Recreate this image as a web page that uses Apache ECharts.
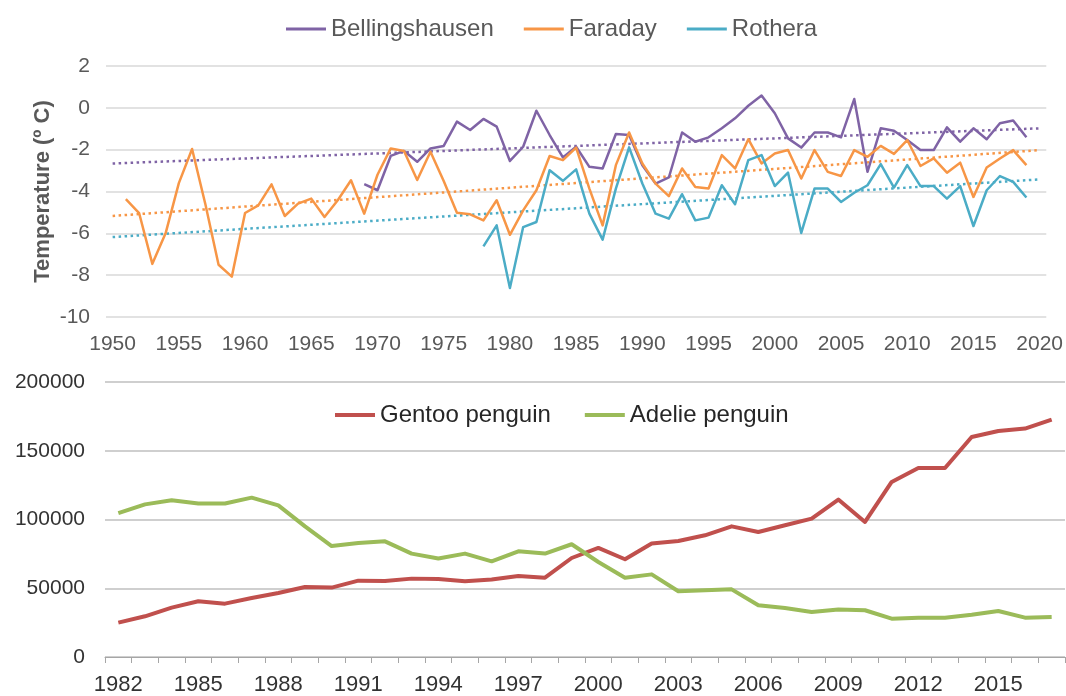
<!DOCTYPE html>
<html><head><meta charset="utf-8">
<script src="https://cdn.jsdelivr.net/npm/echarts@6/dist/echarts.min.js"></script>
<style>html,body{margin:0;padding:0;background:#fff}#c{width:1066px;height:696px}</style>
</head><body><div id="c"></div>
<script>
// ---- Top panel: temperature ----
const tempYears = ['1950','1951','1952','1953','1954','1955','1956','1957','1958','1959',
'1960','1961','1962','1963','1964','1965','1966','1967','1968','1969',
'1970','1971','1972','1973','1974','1975','1976','1977','1978','1979',
'1980','1981','1982','1983','1984','1985','1986','1987','1988','1989',
'1990','1991','1992','1993','1994','1995','1996','1997','1998','1999',
'2000','2001','2002','2003','2004','2005','2006','2007','2008','2009',
'2010','2011','2012','2013','2014','2015','2016','2017','2018','2019','2020'];

const faraday = [null,-4.37,-5.03,-7.46,-6.0,-3.6,-1.97,-4.6,-7.5,-8.07,
-5.03,-4.66,-3.66,-5.17,-4.58,-4.34,-5.22,-4.42,-3.46,-5.06,
-3.2,-1.94,-2.06,-3.45,-2.1,-3.5,-5.02,-5.09,-5.38,-4.42,
-6.07,-4.9,-3.94,-2.3,-2.5,-1.9,-3.86,-5.62,-2.74,-1.18,
-2.66,-3.62,-4.22,-2.9,-3.78,-3.86,-2.26,-2.9,-1.5,-2.66,
-2.18,-2.02,-3.38,-2.02,-3.06,-3.26,-2.02,-2.34,-1.82,-2.2,
-1.54,-2.78,-2.42,-3.1,-2.62,-4.26,-2.85,-2.42,-2.02,-2.74,null];

const bellingshausen = [null,null,null,null,null,null,null,null,null,null,
null,null,null,null,null,null,null,null,null,-3.65,
-3.94,-2.3,-2.06,-2.58,-1.94,-1.82,-0.66,-1.06,-0.53,-0.9,
-2.54,-1.86,-0.14,-1.3,-2.37,-1.86,-2.82,-2.9,-1.25,-1.3,
-2.75,-3.62,-3.33,-1.18,-1.62,-1.41,-0.98,-0.5,0.1,0.59,
-0.26,-1.46,-1.9,-1.18,-1.18,-1.41,0.42,-3.06,-0.98,-1.1,
-1.54,-2.02,-2.02,-0.93,-1.62,-0.98,-1.5,-0.74,-0.61,-1.41,null];

const rothera = [null,null,null,null,null,null,null,null,null,null,
null,null,null,null,null,null,null,null,null,null,
null,null,null,null,null,null,null,null,-6.62,-5.62,
-8.61,-5.7,-5.46,-2.98,-3.49,-2.94,-5.06,-6.3,-3.86,-1.89,
-3.62,-5.06,-5.3,-4.13,-5.38,-5.25,-3.7,-4.61,-2.5,-2.26,
-3.74,-3.1,-5.98,-3.86,-3.86,-4.5,-4.06,-3.7,-2.69,-3.81,
-2.74,-3.74,-3.74,-4.34,-3.74,-5.65,-3.94,-3.26,-3.54,-4.29,null];

// linear trend lines: value at first and last year
const trendYears = ['1950','2020'];
const bellTrend = [-2.66,-0.98];
const faradayTrend = [-5.17,-2.02];
const rotheraTrend = [-6.18,-3.42];

// ---- Bottom panel: penguins ----
const penguinYears = ['1982','1983','1984','1985','1986','1987','1988','1989','1990','1991',
'1992','1993','1994','1995','1996','1997','1998','1999','2000','2001',
'2002','2003','2004','2005','2006','2007','2008','2009','2010','2011',
'2012','2013','2014','2015','2016','2017'];
const gentoo = [25000,29600,35900,40500,38800,42900,46500,50900,50500,55500,
55300,57000,56800,55100,56300,58900,57700,72000,79300,71100,
82500,84400,88500,95000,90900,95800,100600,114500,98200,127300,
137500,137500,160000,164400,166100,172600];
const adelie = [104700,111000,114000,111600,111600,115900,110300,95000,80700,82900,
84100,75200,71600,75200,69600,76900,75200,82000,69100,57700,
60100,47800,48500,49200,37600,35600,32700,34500,34000,27900,
28600,28600,30800,33500,28600,29100];

const C = {bell:'#7F63A5', far:'#F79646', rot:'#4BACC6', gen:'#C0504D', ade:'#9BBB59'};
const FONT = 'Liberation Sans, Arial, sans-serif';

function pairs(xs, vs){ return xs.map((x,i)=>[x, vs[i]]); }
function tempLine(name, data, color){
  return {name, type:'line', xAxisIndex:0, yAxisIndex:0, data, symbol:'none',
    lineStyle:{color, width:2.5, join:'round'}, itemStyle:{color}, connectNulls:false, z:3};
}
function trendLine(name, vals, color){
  return {name, type:'line', xAxisIndex:0, yAxisIndex:0, data:pairs(trendYears, vals), symbol:'none',
    lineStyle:{color, width:2.5, type:[2.5,3.5]}, itemStyle:{color}, silent:true, z:2};
}

const chart = echarts.init(document.getElementById('c'), null, {renderer:'canvas'});
chart.setOption({
  animation:false,
  backgroundColor:'#fff',
  textStyle:{fontFamily:FONT},
  legend:[
    {data:['Bellingshausen','Faraday','Rothera'], left:281, top:12, icon:'rect', itemWidth:40, itemHeight:3,
     itemGap:30, textStyle:{fontSize:24, color:'#595959', fontFamily:FONT}},
    {data:['Gentoo penguin','Adelie penguin'], left:330, top:398, icon:'rect', itemWidth:40, itemHeight:4,
     itemGap:34, textStyle:{fontSize:24, color:'#262626', fontFamily:FONT}}
  ],
  grid:[
    {left:106, right:18, top:66, height:251, containLabel:false},
    {left:105, right:1, top:382, bottom:39, containLabel:false}
  ],
  xAxis:[
    {type:'category', gridIndex:0, data:tempYears, boundaryGap:true,
     axisLine:{show:false}, axisTick:{show:false},
     axisLabel:{interval:4, fontSize:21, color:'#595959', margin:17, fontFamily:FONT},
     splitLine:{show:false}},
    {type:'category', gridIndex:1, data:penguinYears, boundaryGap:true,
     axisLine:{show:true, lineStyle:{color:'#a6a6a6', width:1}},
     axisTick:{show:true, interval:0, length:6, lineStyle:{color:'#a6a6a6'}},
     axisLabel:{interval:2, fontSize:22, color:'#333', margin:17, fontFamily:FONT},
     splitLine:{show:false}}
  ],
  yAxis:[
    {type:'value', gridIndex:0, min:-10, max:2, interval:2,
     name:'Temperature (º C)', nameLocation:'middle', nameGap:52, nameRotate:90, nameMoveOverlap:false,
     nameTextStyle:{fontSize:22, fontWeight:'bold', color:'#595959', fontFamily:FONT},
     axisLine:{show:false}, axisTick:{show:false},
     axisLabel:{fontSize:21, color:'#595959', margin:16, fontFamily:FONT},
     splitLine:{show:true, lineStyle:{color:'#d9d9d9', width:1.5}}},
    {type:'value', gridIndex:1, min:0, max:200000, interval:50000,
     axisLine:{show:false}, axisTick:{show:false},
     axisLabel:{fontSize:21, color:'#333', margin:20, fontFamily:FONT, formatter:(v)=>String(v)},
     splitLine:{show:true, lineStyle:{color:'#bfbfbf', width:1.5}}}
  ],
  series:[
    trendLine('Bellingshausen trend', bellTrend, C.bell),
    trendLine('Faraday trend', faradayTrend, C.far),
    trendLine('Rothera trend', rotheraTrend, C.rot),
    tempLine('Bellingshausen', bellingshausen, C.bell),
    tempLine('Faraday', faraday, C.far),
    tempLine('Rothera', rothera, C.rot),
    {name:'Gentoo penguin', type:'line', xAxisIndex:1, yAxisIndex:1, data:gentoo, symbol:'none',
     lineStyle:{color:C.gen, width:4, join:'round'}, itemStyle:{color:C.gen}},
    {name:'Adelie penguin', type:'line', xAxisIndex:1, yAxisIndex:1, data:adelie, symbol:'none',
     lineStyle:{color:C.ade, width:4, join:'round'}, itemStyle:{color:C.ade}}
  ]
});
</script>
</body></html>
